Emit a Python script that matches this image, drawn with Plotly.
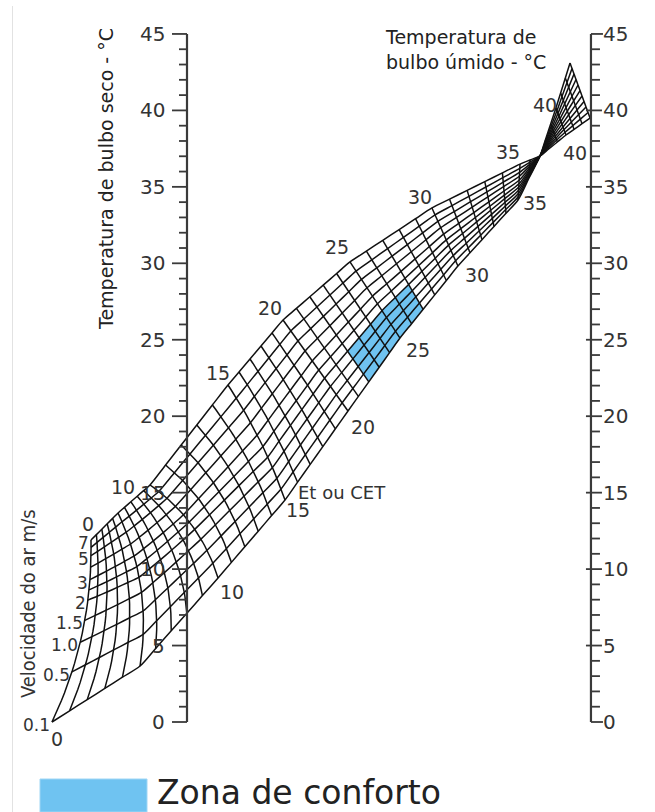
import numpy as np
import plotly.graph_objects as go

# ---------------- data ----------------
TEMP_MAJOR = [0, 5, 10, 15, 20, 25, 30, 35, 40, 45]          # both scales, deg C
TEMP_MINOR = list(range(0, 46))
RIGHT_AXIS_POS = 26.42                                       # nomogram x of wet-bulb scale (dry-bulb scale at 0)

VELOCITIES = [0.1, 0.5, 1.0, 1.5, 2.0, 2.5, 3.0, 4.0, 5.0, 6.0, 7.0]
VELOCITY_LABELS = {0.1: "0.1", 0.5: "0.5", 1.0: "1.0", 1.5: "1.5", 2.0: "2", 3.0: "3", 5.0: "5", 7.0: "7"}

ET_KNOTS = [0, 5, 10, 15, 20, 25, 30, 35, 37, 40, 43]
LOW_VEL_EDGE_X = [-8.83, -3.07, 2.03, 6.41, 10.53, 13.93, 17.72, 21.65, 23.09, 24.13, 25.05]
LOW_VEL_EDGE_Y = [0.00, 3.66, 9.42, 14.52, 20.34, 25.11, 29.82, 34.14, 37.02, 40.16, 43.10]
HIGH_VEL_EDGE_X = [-6.28, -4.51, -2.42, 2.68, 6.28, 10.66, 16.02, 21.78, 23.09, 24.79, 26.36]
HIGH_VEL_EDGE_Y = [11.90, 13.67, 15.50, 22.04, 26.29, 30.09, 33.62, 36.49, 37.02, 38.39, 39.50]
ET_LINE_BOW = [0.72, 0.78, 0.65, 0.26, 0, 0, 0, 0, 0, 0, 0]
VELOCITY_SPACING = [
    [0, .286, .451, .571, .681, .736, .791, .857, .918, .962, 1],
    [0, .20, .35, .47, .57, .64, .71, .79, .87, .94, 1],
    [0, .13, .25, .36, .46, .54, .62, .72, .82, .91, 1],
    [0, .09, .18, .27, .36, .45, .55, .66, .77, .88, 1],
    [0, .09, .18, .27, .36, .45, .55, .66, .77, .88, 1],
    [0, .09, .18, .27, .36, .45, .55, .66, .77, .88, 1],
    [0, .09, .18, .27, .36, .45, .55, .66, .77, .88, 1],
    [0, .09, .18, .27, .36, .45, .55, .66, .77, .88, 1],
    [0, .09, .18, .27, .36, .45, .55, .66, .77, .88, 1],
    [0, .10, .20, .30, .40, .50, .60, .70, .80, .90, 1],
    [0, .10, .20, .30, .40, .50, .60, .70, .80, .90, 1],
]
ET_VALUES = list(range(0, 44))
COMFORT_ET = [22, 27]
COMFORT_VEL = [0.1, 2.0]

# ET labels: (value, edge, dx px, dy px)
ET_LABELS_UPPER = [(0, "hi", -3, -16), (10, "hi", -27, 2), (15, "hi", -10, -12), (20, "hi", -13, -12),
                   (25, "hi", -13, -15), (30, "hi", -12, -11), (35, "hi", -12, -12), (40, "lo", -11, -3)]
ET_LABELS_LOWER = [(0, "lo", 5, 17), (10, "lo", 14, 14), (15, "lo", 13, 10), (20, "lo", 15, 16),
                   (25, "lo", 18, 12), (30, "lo", 19, 9), (35, "lo", 17, 3), (40, "hi", 9, 18)]

# ---------------- geometry ----------------
PX = 15.29  # pixels per degree
FONT = "DejaVu Sans"
TXT = "#333333"


def node(e, w):
    k = lambda arr: np.interp(e, ET_KNOTS, arr)
    bx, by = k(LOW_VEL_EDGE_X), k(LOW_VEL_EDGE_Y)
    tx, ty = k(HIGH_VEL_EDGE_X), k(HIGH_VEL_EDGE_Y)
    bow = k(ET_LINE_BOW)
    dx, dy = tx - bx, ty - by
    L = np.hypot(dx, dy)
    nx, ny = (dy / L, -dx / L) if L > 1e-9 else (0.0, 0.0)
    cx, cy = (bx + tx) / 2 + 2 * bow * nx, (by + ty) / 2 + 2 * bow * ny
    x = (1 - w) ** 2 * bx + 2 * w * (1 - w) * cx + w ** 2 * tx
    y = (1 - w) ** 2 * by + 2 * w * (1 - w) * cy + w ** 2 * ty
    return x, y


def frac(e, i):
    return np.interp(e, ET_KNOTS, [row[i] for row in VELOCITY_SPACING])


fig = go.Figure()

# comfort zone
i0, i1 = VELOCITIES.index(COMFORT_VEL[0]), VELOCITIES.index(COMFORT_VEL[1])
ets = list(range(COMFORT_ET[0], COMFORT_ET[1] + 1))
poly = [node(e, frac(e, i0)) for e in ets]
poly += [node(ets[-1], frac(ets[-1], i)) for i in range(i0, i1 + 1)]
poly += [node(e, frac(e, i1)) for e in ets[::-1]]
poly += [node(ets[0], frac(ets[0], i)) for i in range(i1, i0 - 1, -1)]
fig.add_trace(go.Scatter(x=[p[0] for p in poly], y=[p[1] for p in poly], fill="toself",
                         fillcolor="#6fc3f1", line=dict(width=0), mode="lines", hoverinfo="skip"))

MESH = dict(color="#111", width=1.5)
# ET lines
ex, ey = [], []
for e in ET_VALUES:
    for w in np.linspace(0, 1, 25):
        x, y = node(e, w)
        ex.append(x); ey.append(y)
    ex.append(None); ey.append(None)
fig.add_trace(go.Scatter(x=ex, y=ey, mode="lines", line=MESH, hoverinfo="skip"))

# velocity lines
for i, v in enumerate(VELOCITIES):
    pts = [node(e, frac(e, i)) for e in ET_VALUES]
    fig.add_trace(go.Scatter(x=[p[0] for p in pts], y=[p[1] for p in pts], mode="lines",
                             line=dict(**MESH, shape="spline", smoothing=0.8), hoverinfo="skip"))

# scales
AX_COL = "#3a3a3a"
for xpos in (0, RIGHT_AXIS_POS):
    fig.add_trace(go.Scatter(x=[xpos, xpos], y=[TEMP_MINOR[0], TEMP_MINOR[-1]], mode="lines",
                             line=dict(color=AX_COL, width=2.2), hoverinfo="skip"))
tx, ty = [], []
for t in TEMP_MINOR:
    major = t in TEMP_MAJOR
    L = (15 if major else 8) / PX
    tx += [0, -L, None]; ty += [t, t, None]
    if major and t not in (0, 45):
        tx += [RIGHT_AXIS_POS - 5 / PX, RIGHT_AXIS_POS + 11 / PX, None]
    else:
        tx += [RIGHT_AXIS_POS, RIGHT_AXIS_POS + (12 if major else 9) / PX, None]
    ty += [t, t, None]
fig.add_trace(go.Scatter(x=tx, y=ty, mode="lines", line=dict(color=AX_COL, width=1.8), hoverinfo="skip"))

ann = []
for t in TEMP_MAJOR:
    ann.append(dict(x=0, y=t, text=str(t), xanchor="right", yanchor="middle", xshift=-20,
                    showarrow=False, font=dict(family=FONT, size=20, color=TXT)))
    ann.append(dict(x=RIGHT_AXIS_POS, y=t, text=str(t), xanchor="left", yanchor="middle", xshift=10,
                    showarrow=False, font=dict(family=FONT, size=20, color=TXT)))

# ET labels
for lab in ET_LABELS_UPPER + ET_LABELS_LOWER:
    e, edge, dx, dy = lab
    x, y = node(e, 1.0 if edge == "hi" else 0.0)
    ann.append(dict(x=x, y=y, text=str(e), xanchor="center", yanchor="middle", xshift=dx, yshift=-dy,
                    showarrow=False, font=dict(family=FONT, size=19, color=TXT)))

# velocity labels along ET 0 line
for i, v in enumerate(VELOCITIES):
    if v in VELOCITY_LABELS:
        x, y = node(0, frac(0, i))
        ann.append(dict(x=x, y=y, text=VELOCITY_LABELS[v], xanchor="right", yanchor="middle", xshift=-1,
                        yshift=-3, borderpad=0, showarrow=False, font=dict(family=FONT, size=17, color=TXT)))

# titles
ann.append(dict(x=106 / 655, y=1 - 179 / 812, xref="paper", yref="paper", xanchor="center", yanchor="middle",
                text="Temperatura de bulbo seco - °C", textangle=-90, showarrow=False,
                font=dict(family=FONT, size=19, color="#222")))
ann.append(dict(x=383 / 655, y=1 - 24 / 812, xref="paper", yref="paper", xanchor="left", yanchor="top",
                align="left", text="Temperatura de<br>bulbo úmido - °C", showarrow=False,
                font=dict(family=FONT, size=19, color="#222")))
ann.append(dict(x=28 / 655, y=1 - 604 / 812, xref="paper", yref="paper", xanchor="center", yanchor="middle",
                text="Velocidade do ar m/s", textangle=-90, showarrow=False,
                font=dict(family="DejaVu Sans Condensed, Liberation Sans Narrow, DejaVu Sans", size=20, color=TXT)))
ann.append(dict(x=342 / 655, y=1 - 493 / 812, xref="paper", yref="paper", xanchor="center", yanchor="middle",
                text="Et ou CET", showarrow=False, font=dict(family=FONT, size=18, color=TXT)))
ann.append(dict(x=155 / 655, y=1 - 792 / 812, xref="paper", yref="paper", xanchor="left", yanchor="middle",
                text="Zona de conforto", showarrow=False, font=dict(family=FONT, size=33, color="#222")))

shapes = [
    dict(type="rect", xref="paper", yref="paper", x0=40 / 655, x1=147 / 655, y0=0, y1=1 - 779 / 812,
         fillcolor="#6fc3f1", line=dict(color="#9fd6f5", width=1)),
    dict(type="line", xref="paper", yref="paper", x0=12.5 / 655, x1=12.5 / 655, y0=0, y1=1 - 6 / 812,
         line=dict(color="#e2e2e2", width=1)),
]

fig.update_layout(
    width=655, height=812, margin=dict(l=0, r=0, t=0, b=0),
    paper_bgcolor="white", plot_bgcolor="white", showlegend=False,
    xaxis=dict(visible=False, range=[-187 / PX, (655 - 187) / PX], domain=[0, 1]),
    yaxis=dict(visible=False, range=[-(812 - 722) / PX, 722 / PX], domain=[0, 1]),
    annotations=ann, shapes=shapes,
)
fig.write_html("out.html")
